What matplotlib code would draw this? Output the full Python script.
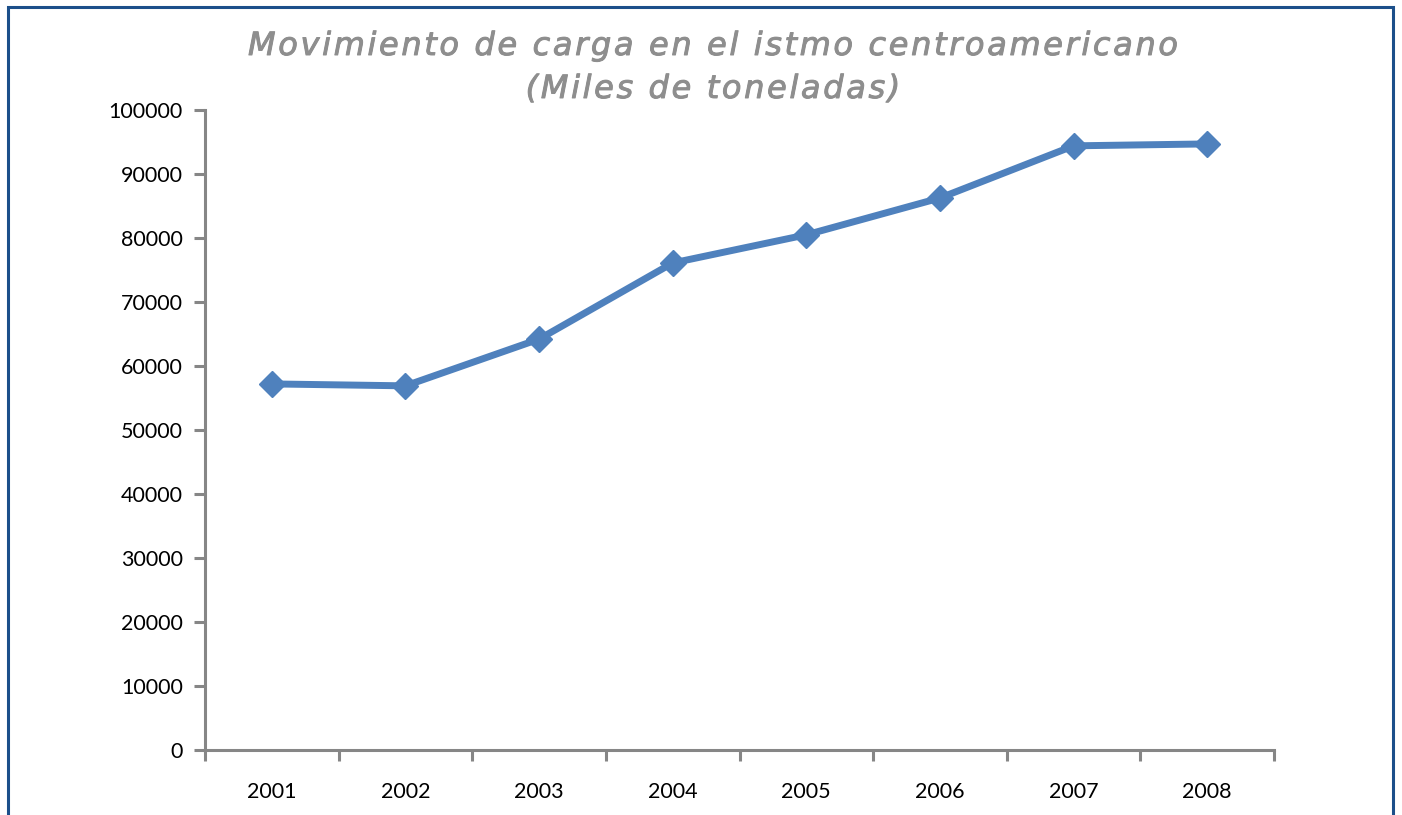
import matplotlib
matplotlib.use("Agg")
import matplotlib.pyplot as plt
import matplotlib.patheffects as pe
from matplotlib.patches import Rectangle
from matplotlib.font_manager import FontProperties

years = ["2001", "2002", "2003", "2004", "2005", "2006", "2007", "2008"]
carga = [57200, 56900, 64200, 76100, 80500, 86250, 94400, 94700]
yticks = list(range(0, 100001, 10000))
title_lines = ["Movimiento de carga en el istmo centroamericano", "(Miles de toneladas)"]

W, H = 1402, 815
fig = plt.figure(figsize=(W / 100, H / 100), dpi=100)
fig.patch.set_facecolor("white")

ax = fig.add_axes([205 / W, 1 - 750 / H, (1274 - 205) / W, (750 - 110) / H])
x = list(range(len(years)))
ax.plot(x, carga, color="#4F81BD", lw=5, marker="D", markersize=13,
        markerfacecolor="#4F81BD", markeredgecolor="#4F81BD", solid_joinstyle="round",
        clip_on=False, zorder=3)
ax.set_xlim(-0.5, len(years) - 0.5)
ax.set_ylim(0, 100000)
ax.set_yticks(yticks)
ax.set_yticklabels([str(v) for v in yticks])
ax.set_xticks([i - 0.5 for i in range(len(years) + 1)])
ax.set_xticklabels([])
ax.set_xticks(x, minor=True)
ax.set_xticklabels(years, minor=True)
ax.tick_params(axis="x", which="minor", length=0, pad=23)
ax.tick_params(axis="x", which="major", length=8, width=2.2, color="#868686", direction="out")
ax.tick_params(axis="y", length=8, width=2.2, color="#868686", direction="out", pad=8)
tick_font = FontProperties(family="Lato", size=15.5)
for lab in ax.get_yticklabels() + ax.get_xticklabels(minor=True):
    lab.set_fontproperties(tick_font)
    lab.set_color("black")
for s in ["top", "right"]:
    ax.spines[s].set_visible(False)
for s in ["left", "bottom"]:
    ax.spines[s].set_color("#868686")
    ax.spines[s].set_linewidth(2.2)

# border
fig.add_artist(Rectangle((8 / W, -0.05), (1393 - 8) / W, 1 - 7 / H + 0.05,
                         transform=fig.transFigure, fill=False, edgecolor="#1C4F8A",
                         linewidth=2.2))

# spaced title
fig.canvas.draw()
renderer = fig.canvas.get_renderer()
tprop = FontProperties(family="DejaVu Sans", style="italic", weight="normal", size=23)
title_color = "#8E8E8E"

def wid(s):
    w, h, d = renderer.get_text_width_height_descent(s, tprop, ismath=False)
    return w

def spaced(text, cx, cy, spacing):
    bar = wid("|")
    pos = [wid(text[:i] + "|") - bar for i in range(len(text))]
    total = wid(text) + spacing * (len(text) - 1)
    x0 = cx - total / 2
    for i, ch in enumerate(text):
        if ch == " ":
            continue
        fig.text((x0 + pos[i] + i * spacing) / W, 1 - cy / H, ch, fontproperties=tprop,
                 color=title_color, ha="left", va="baseline",
                 path_effects=[pe.withStroke(linewidth=0.7, foreground=title_color)])

line1 = title_lines[0]
spacing = max(0.0, (930 - wid(line1)) / (len(line1) - 1))
spaced(line1, 713, 55, spacing)
spaced(title_lines[1], 713, 98, spacing)

fig.savefig("out.png", dpi=100, facecolor="white")
